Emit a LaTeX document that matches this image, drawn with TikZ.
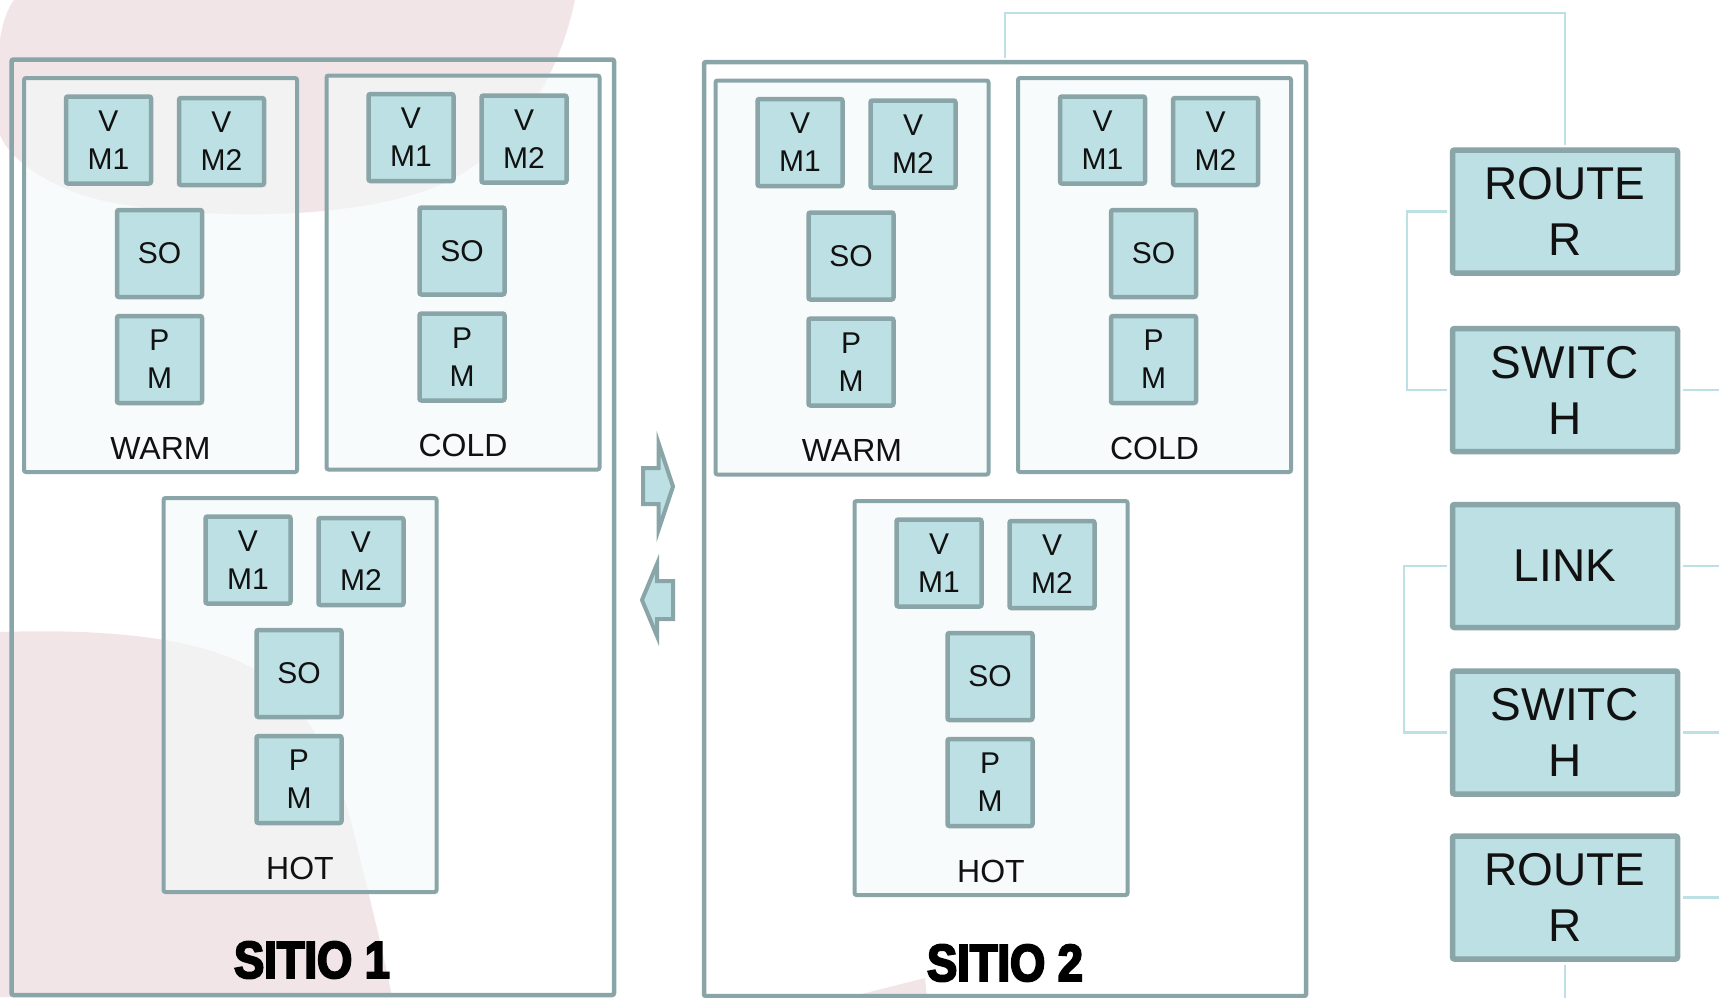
\documentclass[tikz,border=0pt]{standalone}
\usepackage{fontspec}
\setmainfont{Liberation Sans}
\newfontfamily\sitiofont{Liberation Sans Bold}[FakeBold=4,FakeStretch=0.87]
\definecolor{bord}{HTML}{8AA5A8}
\definecolor{tealfill}{HTML}{BCE0E3}
\definecolor{grpfill}{HTML}{F5F9FA}
\definecolor{pinkbg}{HTML}{F2E5E8}
\definecolor{connc}{HTML}{BCE0E3}
\definecolor{ink}{HTML}{111111}
\tikzset{
  unitbox/.style={draw=bord, fill=tealfill, line width=4.5pt, rounded corners=2pt,
    minimum width=85pt, minimum height=87pt, inner sep=0pt, align=center, text=ink,
    font=\fontsize{30}{38}\selectfont},
  grpbox/.style={draw=bord, fill=grpfill, fill opacity=0.65, line width=4pt, rounded corners=2pt,
    minimum width=273pt, minimum height=394pt, inner sep=0pt},
  grplbl/.style={inner sep=0pt, text=ink, font=\fontsize{32}{38}\selectfont},
  sitebox/.style={draw=bord, line width=4.5pt, rounded corners=2pt, inner sep=0pt},
  sitelbl/.style={inner sep=0pt, text=black, font=\sitiofont\fontsize{52}{60}\selectfont},
  netbox/.style={draw=bord, fill=tealfill, line width=5.5pt, rounded corners=2pt,
    minimum width=225pt, minimum height=123pt, inner sep=0pt, align=center, text=ink,
    font=\fontsize{46}{56}\selectfont},
  conn/.style={draw=connc, line width=2.5pt},
  flowarrow/.style={draw=bord, fill=tealfill, line width=4pt, line join=miter}
}
\newcommand\zonegroup[4]{%
  \node[grpbox] (#1) at (#2,#3) {};
  \node[unitbox] (#1-vm1) at ({#2-52},{#3-135}) {V\\M1};
  \node[unitbox] (#1-vm2) at ({#2+61},{#3-133.5}) {V\\M2};
  \node[unitbox] (#1-so) at ({#2-1},{#3-21.5}) {SO};
  \node[unitbox] (#1-pm) at ({#2-1},{#3+84.5}) {P\\M};
  \node[grplbl] (#1-lbl) at ({#2},{#3+173}) {#4};
}
\begin{document}
\begin{tikzpicture}[x=1pt,y=-1pt]
\useasboundingbox (0,0) rectangle (1719,997);
\clip (0,0) rectangle (1719,997);
\fill[white] (0,0) rectangle (1719,997);
% background blobs
\fill[pinkbg] (14,0) -- (575,0) .. controls (560,70) and (520,150) .. (440,185)
  .. controls (360,220) and (200,222) .. (100,200)
  .. controls (50,188) and (10,160) .. (0,135) -- (0,40)
  .. controls (3,20) and (8,8) .. (14,0) -- cycle;
\fill[pinkbg] (0,632) .. controls (120,628) and (220,640) .. (270,680)
  .. controls (320,720) and (345,790) .. (358,850)
  .. controls (370,900) and (383,950) .. (392,997) -- (0,997) -- cycle;
\fill[pinkbg] (850,997) -- (925,978) -- (927,997) -- cycle;
% sites
\node[sitebox, minimum width=602.5pt, minimum height=935.5pt] (s1) at (312.75,527.25) {};
\node[sitebox, minimum width=602pt, minimum height=934pt] (s2) at (1005,529) {};
\zonegroup{s1w}{160.5}{275}{WARM}
\zonegroup{s1c}{463}{272.5}{COLD}
\zonegroup{s1h}{300}{695}{HOT}
\zonegroup{s2w}{852}{277.5}{WARM}
\zonegroup{s2c}{1154.5}{275}{COLD}
\zonegroup{s2h}{991}{698}{HOT}
\node[sitelbl] (s1-title) at (312,960) {SITIO 1};
\node[sitelbl] (s2-title) at (1005,963) {SITIO 2};
% migration arrows
\draw[flowarrow] (643,468) -- (658.5,468) -- (658.5,443) -- (673,486.5) -- (658.5,530) -- (658.5,504) -- (643,504) -- cycle;
\draw[flowarrow] (673,581) -- (657,581) -- (657,564) -- (642,600) -- (657,636) -- (657,619) -- (673,619) -- cycle;
% network column
\node[netbox] (r1) at (1565,211.5) {ROUTE\\R};
\node[netbox] (sw1) at (1565,390) {SWITC\\H};
\node[netbox] (link) at (1565,566) {LINK};
\node[netbox] (sw2) at (1565,732.5) {SWITC\\H};
\node[netbox] (r2) at (1565,897.5) {ROUTE\\R};
% connectors
\coordinate (toprail) at (0,13);
\coordinate (brk1) at (1407,0);
\coordinate (brk2) at (1404,0);
\coordinate (redge) at (1725,0);
\coordinate (bedge) at (0,1003);
\draw[conn, shorten <=2.25pt, shorten >=2.75pt] (s2.north) -- (s2.north |- toprail) -| (r1.north);
\draw[conn, shorten <=2.75pt, shorten >=2.75pt] (r1.west) -- (r1.west -| brk1) |- (sw1.west);
\draw[conn, shorten <=2.75pt, shorten >=2.75pt] (link.west) -- (link.west -| brk2) |- (sw2.west);
\draw[conn, shorten <=2.75pt] (sw1.east) -- (sw1.east -| redge);
\draw[conn, shorten <=2.75pt] (link.east) -- (link.east -| redge);
\draw[conn, shorten <=2.75pt] (sw2.east) -- (sw2.east -| redge);
\draw[conn, shorten <=2.75pt] (r2.east) -- (r2.east -| redge);
\draw[conn, shorten <=2.75pt] (r2.south) -- (r2.south |- bedge);
\end{tikzpicture}
\end{document}
